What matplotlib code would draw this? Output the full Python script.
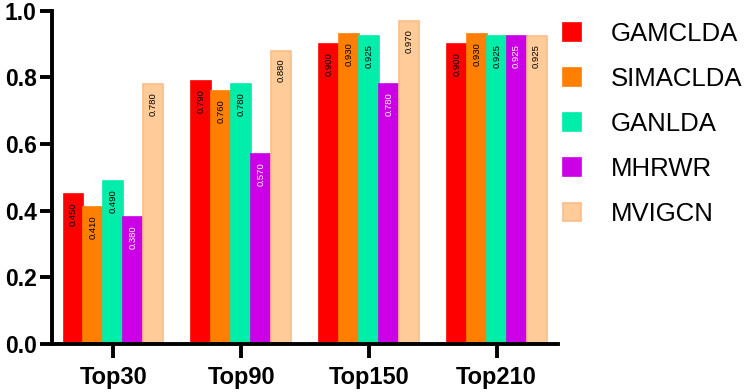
import matplotlib.pyplot as plt
from matplotlib.patches import Patch
import numpy as np

groups = ['Top30', 'Top90', 'Top150', 'Top210']
methods = ['GAMCLDA', 'SIMACLDA', 'GANLDA', 'MHRWR', 'MVIGCN']
gamclda = [0.450, 0.790, 0.900, 0.900]
simaclda = [0.410, 0.760, 0.930, 0.930]
ganlda = [0.490, 0.780, 0.925, 0.925]
mhrwr = [0.380, 0.570, 0.780, 0.925]
mvigcn = [0.780, 0.880, 0.970, 0.925]

series = [gamclda, simaclda, ganlda, mhrwr, mvigcn]
colors = ['#ff0000', '#ff8000', '#00eeaa', '#cc00e6', '#ffcc99']
edges = ['#ff0000', '#ff8000', '#00eeaa', '#cc00e6', '#f9bd85']
text_colors = ['black', 'black', 'black', 'white', 'black']

plt.rcParams['font.family'] = ['Liberation Sans', 'DejaVu Sans']

fig = plt.figure(figsize=(7.47, 3.92), dpi=100)
ax = fig.add_axes([52 / 747, 1 - 344 / 392, (558 - 52) / 747, (344 - 10.5) / 392])

x = np.arange(len(groups))
w = 0.156
for i, vals in enumerate(series):
    pos = x + (i - 2) * w
    ax.bar(pos, vals, width=w, color=colors[i], edgecolor=edges[i], linewidth=1.2)
    for p, v in zip(pos, vals):
        ax.annotate('%.3f' % v, (p, v), xytext=(0, -6), textcoords='offset points',
                    rotation=90, ha='center', va='top', fontsize=6.8, color=text_colors[i])

ax.set_xlim(-0.48, 3.48)
ax.set_ylim(0, 1.0)
ax.set_yticks([0, 0.2, 0.4, 0.6, 0.8, 1.0])
ax.set_yticklabels(['0.0', '0.2', '0.4', '0.6', '0.8', '1.0'])
ax.set_xticks(x)
ax.set_xticklabels(groups)
for lab in ax.get_xticklabels() + ax.get_yticklabels():
    lab.set_fontweight('bold')
ax.tick_params(axis='y', labelsize=16.5, width=2.8, length=8.5, pad=2.5)
ax.tick_params(axis='x', labelsize=17, width=2.8, length=10, pad=6)
for s in ['top', 'right']:
    ax.spines[s].set_visible(False)
for s in ['left', 'bottom']:
    ax.spines[s].set_linewidth(2.8)
ax.spines['left'].set_zorder(5)
ax.spines['bottom'].set_zorder(5)

handles = [Patch(facecolor=colors[i], edgecolor=edges[i], linewidth=1.2) for i in range(5)]
fig.legend(handles, methods, loc='upper left', bbox_to_anchor=(563 / 747, 1 - 22 / 392),
           frameon=False, fontsize=18.5, handlelength=0.7, handleheight=0.7,
           handletextpad=1.15, labelspacing=0.82, borderpad=0, borderaxespad=0)

fig.savefig('out.png', dpi=100)
